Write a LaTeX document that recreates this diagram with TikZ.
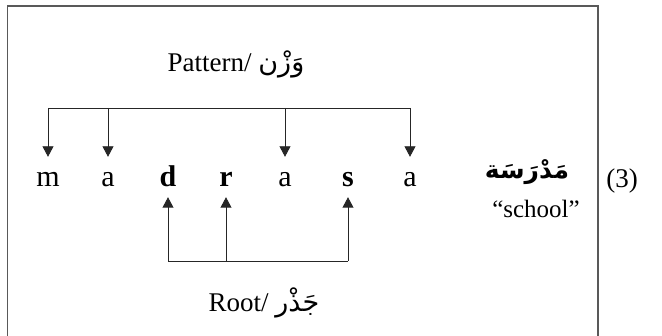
\documentclass[tikz,border=0pt]{standalone}
\usepackage{fontspec}
\setmainfont{Liberation Serif}
\newfontfamily\arabicfont[Script=Arabic]{DejaVu Sans}
\TeXXeTstate=1
\usetikzlibrary{arrows.meta}
\begin{document}
\begin{tikzpicture}[x=1pt,y=-1pt,
  letter/.style={inner sep=0pt,minimum height=40pt,text height=20pt,text depth=0pt,font=\fontsize{30}{34}\selectfont},
  label/.style={inner sep=0pt,anchor=base,font=\fontsize{27}{31}\selectfont},
  frame/.style={draw=black!65,line width=1.3pt},
  link/.style={draw=black!85,line width=0.9pt},
  arr/.style={link,-{Triangle[length=10.5pt,width=11pt]}}]
\useasboundingbox (0,0) rectangle (662,336);
\draw[frame] (7.5,340) -- (7.5,6) -- (598,6) -- (598,340);
% letters
\node[letter] (m)  at (48,177)  {m};
\node[letter] (a1) at (108,177) {a};
\node[letter] (d)  at (168,177) {\bfseries d};
\node[letter] (r)  at (226,177) {\bfseries r};
\node[letter] (a2) at (285,177) {a};
\node[letter] (s)  at (348,177) {\bfseries s};
\node[letter] (a3) at (410,177) {a};
% labels
\node[label] (pat) at (236,72) {Pattern/ {\arabicfont\beginR وَزْن\endR}};
\node[label] (root) at (264,312) {Root/ {\arabicfont\beginR جَذْر\endR}};
\node[label,font=\fontsize{25}{29}\selectfont] (word) at (527,179) {\arabicfont\bfseries\beginR مَدْرَسَة\endR};
\node[label,font=\fontsize{25}{29}\selectfont] (gloss) at (536,218) {“school”};
\node[label,font=\fontsize{27}{31}\selectfont] (num) at (622,188) {(3)};
% pattern bracket
\coordinate (pm) at (m.north |- 0,108);
\coordinate (pa1) at (a1.north |- 0,108);
\coordinate (pa2) at (a2.north |- 0,108);
\coordinate (pa3) at (a3.north |- 0,108);
\draw[link] (pm) -- (pa3);
\draw[arr] (pm) -- (m.north);
\draw[arr] (pa1) -- (a1.north);
\draw[arr] (pa2) -- (a2.north);
\draw[arr] (pa3) -- (a3.north);
% root bracket
\coordinate (rd) at (d.south |- 0,261);
\coordinate (rr) at (r.south |- 0,261);
\coordinate (rs) at (s.south |- 0,261);
\draw[link] (rd) -- (rs);
\draw[arr] (rd) -- (d.south);
\draw[arr] (rr) -- (r.south);
\draw[arr] (rs) -- (s.south);
\end{tikzpicture}
\end{document}
